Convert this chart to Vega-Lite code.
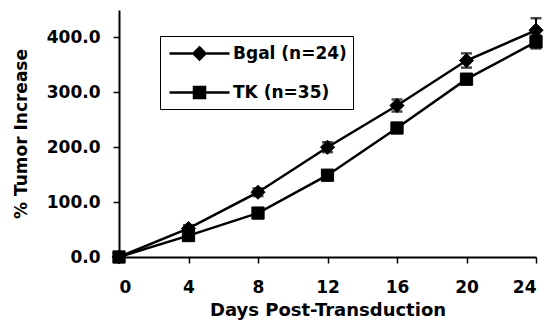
{
  "$schema": "https://vega.github.io/schema/vega-lite/v6.json",
  "width": 417,
  "height": 247,
  "autosize": {"type": "none"},
  "padding": {"left": 119, "top": 10, "right": 11, "bottom": 72},
  "background": "white",
  "config": {
    "view": {"stroke": null},
    "font": "DejaVu Sans",
    "axis": {
      "domainColor": "black", "domainWidth": 2, "tickColor": "black", "tickWidth": 1.5,
      "tickSize": 6, "grid": false, "labelFont": "DejaVu Sans", "labelFontWeight": "bold",
      "labelFontSize": 17, "labelColor": "black", "titleFont": "DejaVu Sans",
      "titleFontWeight": "bold", "titleFontSize": 18, "titleColor": "black"
    }
  },
  "data": {"values": [
    {"group": "Bgal (n=24)", "day": 0, "value": 0, "lo": 0, "hi": 0},
    {"group": "Bgal (n=24)", "day": 4, "value": 52, "lo": 46, "hi": 58},
    {"group": "Bgal (n=24)", "day": 8, "value": 118, "lo": 111, "hi": 125},
    {"group": "Bgal (n=24)", "day": 12, "value": 200, "lo": 191, "hi": 209},
    {"group": "Bgal (n=24)", "day": 16, "value": 276, "lo": 265, "hi": 287},
    {"group": "Bgal (n=24)", "day": 20, "value": 358, "lo": 345, "hi": 371},
    {"group": "Bgal (n=24)", "day": 24, "value": 413, "lo": 393, "hi": 435},
    {"group": "TK (n=35)", "day": 0, "value": 0, "lo": 0, "hi": 0},
    {"group": "TK (n=35)", "day": 4, "value": 39, "lo": 34, "hi": 44},
    {"group": "TK (n=35)", "day": 8, "value": 80, "lo": 74, "hi": 86},
    {"group": "TK (n=35)", "day": 12, "value": 149, "lo": 142, "hi": 156},
    {"group": "TK (n=35)", "day": 16, "value": 235, "lo": 227, "hi": 243},
    {"group": "TK (n=35)", "day": 20, "value": 324, "lo": 315, "hi": 333},
    {"group": "TK (n=35)", "day": 24, "value": 392, "lo": 380, "hi": 404}
  ]},
  "encoding": {
    "x": {"field": "day", "type": "quantitative",
      "scale": {"domain": [0, 24], "nice": false},
      "axis": {"values": [0, 4, 8, 12, 16, 20, 24], "format": "d", "labelPadding": 16, "title": "Days Post-Transduction", "titlePadding": 6}},
    "y": {"field": "value", "type": "quantitative",
      "scale": {"domain": [0, 450], "nice": false},
      "axis": {"values": [0, 100, 200, 300, 400], "format": ".1f", "labelPadding": 13, "title": "% Tumor Increase", "titlePadding": 16, "titleFontSize": 17}}
  },
  "layer": [
    {
      "mark": {"type": "errorbar", "ticks": {"size": 11, "thickness": 2.5}, "rule": {"strokeWidth": 2}, "color": "black"},
      "encoding": {
        "y": {"field": "lo", "type": "quantitative"},
        "y2": {"field": "hi"},
        "detail": {"field": "group"}
      }
    },
    {
      "mark": {"type": "line", "color": "black", "strokeWidth": 2.5},
      "encoding": {"detail": {"field": "group"}}
    },
    {
      "transform": [{"filter": "datum.group === 'Bgal (n=24)'"}],
      "mark": {"type": "point", "shape": "diamond", "filled": true, "color": "black", "opacity": 1, "size": 200, "strokeWidth": 1, "stroke": "black"}
    },
    {
      "transform": [{"filter": "datum.group === 'TK (n=35)'"}],
      "mark": {"type": "point", "shape": "square", "filled": true, "color": "black", "opacity": 1, "size": 150, "strokeWidth": 1, "stroke": "black"}
    },
    {
      "mark": {"type": "point", "filled": false, "color": "black", "opacity": 0, "size": 400},
      "encoding": {
        "shape": {"field": "group", "type": "nominal",
          "scale": {"domain": ["Bgal (n=24)", "TK (n=35)"], "range": [
            "M-3,0L3,0M0,-0.6L0.6,0L0,0.6L-0.6,0ZM-0.4,-0.2H0.4M-0.4,0.2H0.4M-0.2,-0.4H0.2M-0.2,0.4H0.2",
            "M-3,0L3,0M-0.55,-0.55H0.55V0.55H-0.55ZM-0.55,-0.35H0.55M-0.55,-0.15H0.55M-0.55,0.15H0.55M-0.55,0.35H0.55"
          ]},
          "legend": {
            "title": null, "orient": "none", "legendX": 41, "legendY": 26,
            "padding": 6, "strokeColor": "black", "fillColor": "white", "cornerRadius": 0,
            "labelFont": "DejaVu Sans", "labelFontWeight": "bold", "labelFontSize": 17, "labelColor": "black",
            "symbolSize": 400, "symbolOffset": 22, "labelOffset": 22, "rowPadding": 16,
            "symbolStrokeColor": "black", "symbolStrokeWidth": 2.5, "symbolOpacity": 1
          }}
      }
    }
  ]
}
